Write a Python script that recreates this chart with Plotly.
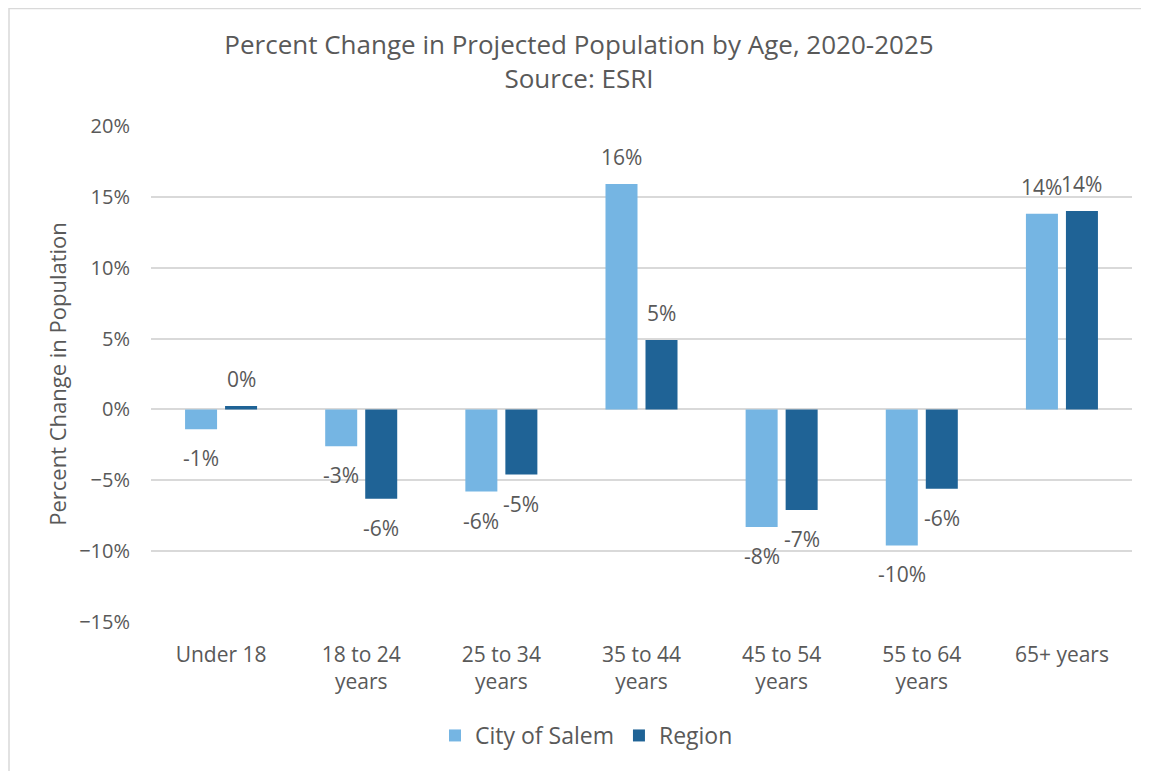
import plotly.graph_objects as go

categories = ["Under 18", "18 to 24<br>years", "25 to 34<br>years", "35 to 44<br>years",
              "45 to 54<br>years", "55 to 64<br>years", "65+ years"]
city_of_salem = [-1.4, -2.6, -5.8, 15.9, -8.3, -9.6, 13.8]
region = [0.25, -6.3, -4.6, 4.9, -7.1, -5.6, 14.0]

FONT = "Open Sans"
GREY = "#595959"

# figure sits at page offset (8, 8)
W, H = 1141, 763
L, T = 143, 118
PW, PH = 981, 496
R = W - L - PW
B = H - T - PH

series = [("City of Salem", city_of_salem, "#75B5E3", -20), ("Region", region, "#1F6396", 20)]

fig = go.Figure()
annotations = []
for name, vals, col, dx in series:
    fig.add_trace(go.Bar(
        x=categories, y=vals, name=name,
        marker=dict(color=col, line=dict(width=0)),
    ))
    for c, v in zip(categories, vals):
        pos = v >= 0
        annotations.append(dict(
            x=c, y=v, xref="x", yref="y", text=f"{round(v):.0f}%", showarrow=False,
            xshift=dx, yshift=11 if pos else -13, yanchor="bottom" if pos else "top",
            font=dict(size=21, color=GREY, family=FONT),
        ))

fig.update_layout(
    width=W, height=H,
    paper_bgcolor="white", plot_bgcolor="white",
    font=dict(family=FONT, color=GREY, size=20),
    title=dict(
        text="Percent Change in Projected Population by Age, 2020-2025<br>Source: ESRI",
        x=(579 - 8) / W, xanchor="center", y=1 - 46 / H, yanchor="top",
        font=dict(size=26, color=GREY, family=FONT),
    ),
    barmode="group", bargap=0.429, bargroupgap=0.2,
    margin=dict(l=L, r=R, t=T, b=B, autoexpand=False),
    legend=dict(orientation="h", x=0.5 - 55 / PW, xanchor="center", y=-(714 - 8 - T - PH) / PH, yanchor="top",
                font=dict(size=23, color=GREY, family=FONT), traceorder="normal"),
    annotations=annotations,
    shapes=[dict(type="rect", xref="paper", yref="paper",
                 x0=(1 - L) / PW, x1=(W + 20 - L) / PW,
                 y0=-(H + 20 - T - PH) / PH, y1=1 + (T - 0.5) / PH,
                 line=dict(color="#D9D9D9", width=1.5), layer="below")],
)
fig.update_yaxes(
    range=[-15, 20], dtick=5, ticksuffix="%",
    showgrid=True, gridcolor="#D9D9D9", gridwidth=1.5,
    zeroline=True, zerolinecolor="#D9D9D9", zerolinewidth=1.5,
    showline=False, ticks="", ticklabelstandoff=20,
    tickfont=dict(size=20, color=GREY, family=FONT),
    title=dict(text="Percent Change in Population", font=dict(size=22, color=GREY, family=FONT), standoff=6),
)
fig.update_xaxes(
    showline=False, ticks="", ticklabelstandoff=18,
    tickfont=dict(size=21, color=GREY, family=FONT),
)

fig.write_html("out.html")
